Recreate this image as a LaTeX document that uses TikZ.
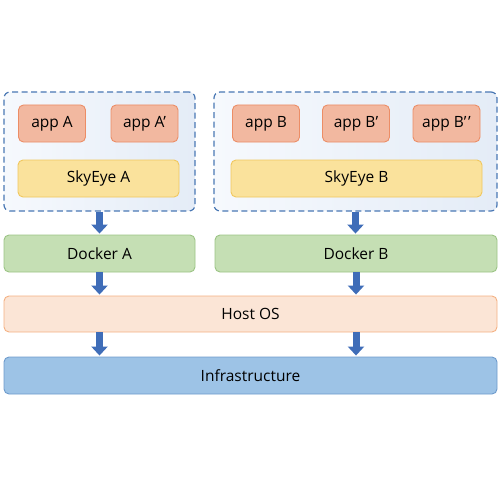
\documentclass[tikz,border=0pt]{standalone}
\usepackage{fontspec}
\setmainfont{Open Sans}
\usetikzlibrary{arrows.meta}
\definecolor{appfill}{HTML}{F2B8A0}
\definecolor{appdraw}{HTML}{EC8D66}
\definecolor{skyfill}{HTML}{FAE29C}
\definecolor{skydraw}{HTML}{F0C75E}
\definecolor{dockfill}{HTML}{C5DFB4}
\definecolor{dockdraw}{HTML}{9CC485}
\definecolor{hostfill}{HTML}{FBE5D6}
\definecolor{hostdraw}{HTML}{F4B183}
\definecolor{infrafill}{HTML}{9DC3E6}
\definecolor{infradraw}{HTML}{6E9BCC}
\definecolor{contdraw}{HTML}{4A78B4}
\definecolor{contA}{HTML}{F6F9FD}
\definecolor{contB}{HTML}{E4ECF7}
\definecolor{arrowcol}{HTML}{3F6DB8}
\tikzset{
  box/.style={rectangle, rounded corners=5pt, line width=0.9pt, inner sep=0pt,
    minimum height=37pt, font=\fontsize{15.5}{18}\selectfont, text=black},
  appbox/.style={box, fill=appfill, draw=appdraw, minimum width=67pt},
  skybox/.style={box, fill=skyfill, draw=skydraw},
  dockbox/.style={box, fill=dockfill, draw=dockdraw},
  hostbox/.style={box, fill=hostfill, draw=hostdraw},
  infrabox/.style={box, fill=infrafill, draw=infradraw},
  container/.style={rectangle, rounded corners=6pt, draw=contdraw, line width=1.2pt,
    dash pattern=on 6pt off 3.5pt, left color=contA, right color=contB,
    minimum height=119pt, inner sep=0pt},
  blockarrow/.style={draw=arrowcol, line width=7pt,
    -{Triangle[width=16pt,length=9pt]}, shorten >=1pt},
}
\begin{document}
\begin{tikzpicture}[x=1pt,y=-1pt]
\useasboundingbox (0,0) rectangle (500,500);
\node[container, minimum width=191pt] (cA) at (99.5,151.5) {};
\node[container, minimum width=283pt] (cB) at (355.5,151.5) {};
\node[appbox] (appA) at (52,123.5) {app A};
\node[appbox] (appA2) at (144.5,123.5) {app A’};
\node[skybox, minimum width=161pt] (skyA) at (98.5,178.5) {SkyEye A};
\node[appbox] (appB) at (266,123.5) {app B};
\node[appbox] (appB2) at (356,123.5) {app B’};
\node[appbox] (appB3) at (446.5,123.5) {app B’{}\kern1.6pt’};
\node[skybox, minimum width=251pt] (skyB) at (356.5,178.5) {SkyEye B};
\node[dockbox, minimum width=191pt] (dA) at (99.5,253.5) {Docker A};
\node[dockbox, minimum width=282pt] (dB) at (356,253.5) {Docker B};
\node[hostbox, minimum width=493pt, minimum height=36pt] (host) at (250.5,314) {Host OS};
\node[infrabox, minimum width=493pt] (infra) at (250.5,375.5) {Infrastructure};
\draw[blockarrow] (cA.south) -- (dA.north);
\draw[blockarrow] (cB.south) -- (cB.south |- dB.north);
\draw[blockarrow] (dA.south) -- (dA.south |- host.north);
\draw[blockarrow] (dB.south) -- (dB.south |- host.north);
\draw[blockarrow] (host.south -| dA.south) -- (dA.south |- infra.north);
\draw[blockarrow] (host.south -| dB.south) -- (dB.south |- infra.north);
\end{tikzpicture}
\end{document}
